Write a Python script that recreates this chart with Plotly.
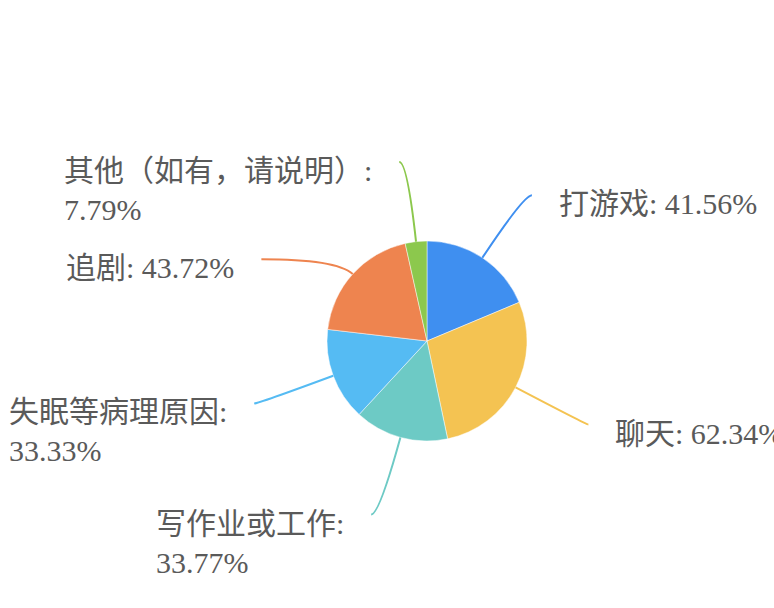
import math
import plotly.graph_objects as go

# ---- data ----
labels = ["打游戏", "聊天", "写作业或工作", "失眠等病理原因", "追剧", "其他（如有，请说明）"]
values = [41.56, 62.34, 33.77, 33.33, 43.72, 7.79]
colors = ["#3f8ff0", "#f4c352", "#6dcac5", "#55bbf3", "#ee844f", "#8cc84d"]
wrapped = [False, False, True, True, False, True]

# ---- layout constants ----
W, H = 774, 608
CX, CY, R = 427, 341, 100
len1 = [75, 80, 80, 80, 22, 80]   # radial part of leader line
len2 = [8, 2, 8, 4, 75, 8]        # horizontal part of leader line
GAP = 25
FONT = dict(family="Times New Roman, Liberation Serif, Noto Sans CJK SC, serif",
            size=30, color="#5a5a5a")


def px(x):
    return x / W


def py(y):
    return 1 - y / H


fig = go.Figure(go.Pie(
    labels=labels, values=values, sort=False, direction="clockwise", rotation=0,
    marker=dict(colors=colors, line=dict(color="rgba(255,255,255,0.6)", width=0.8)),
    textinfo="none", hoverinfo="none", showlegend=False,
    domain=dict(x=[px(CX - R), px(CX + R)], y=[py(CY + R), py(CY - R)]),
))

total = sum(values)
start = 0.0
shapes, annotations = [], []
for i, v in enumerate(values):
    frac = v / total * 360
    mid = math.radians(start + frac / 2)
    start += frac
    dx, dy = math.sin(mid), -math.cos(mid)
    x0, y0 = CX + R * dx, CY + R * dy
    x1, y1 = x0 + len1[i] * dx, y0 + len1[i] * dy
    side = 1 if dx >= 0 else -1
    x2, y2 = x1 + side * len2[i], y1
    shapes.append(dict(
        type="path", xref="paper", yref="paper",
        path=f"M {px(x0)},{py(y0)} Q {px(x1)},{py(y1)} {px(x2)},{py(y2)}",
        line=dict(color=colors[i], width=2),
    ))
    sep = ":<br>" if wrapped[i] else ": "
    text = f"{labels[i]}{sep}{v:.2f}%"
    annotations.append(dict(
        xref="paper", yref="paper",
        x=px(x2 + side * GAP), y=py(y2 - 10),
        xanchor="left" if side > 0 else "right", yanchor="top", align="left",
        text=text, showarrow=False, font=FONT,
    ))

fig.update_layout(
    width=W, height=H, margin=dict(l=0, r=0, t=0, b=0),
    paper_bgcolor="white", plot_bgcolor="white",
    shapes=shapes, annotations=annotations,
)
fig.write_html("out.html", config={"displayModeBar": False},
               post_script="document.body.style.margin='0';")
